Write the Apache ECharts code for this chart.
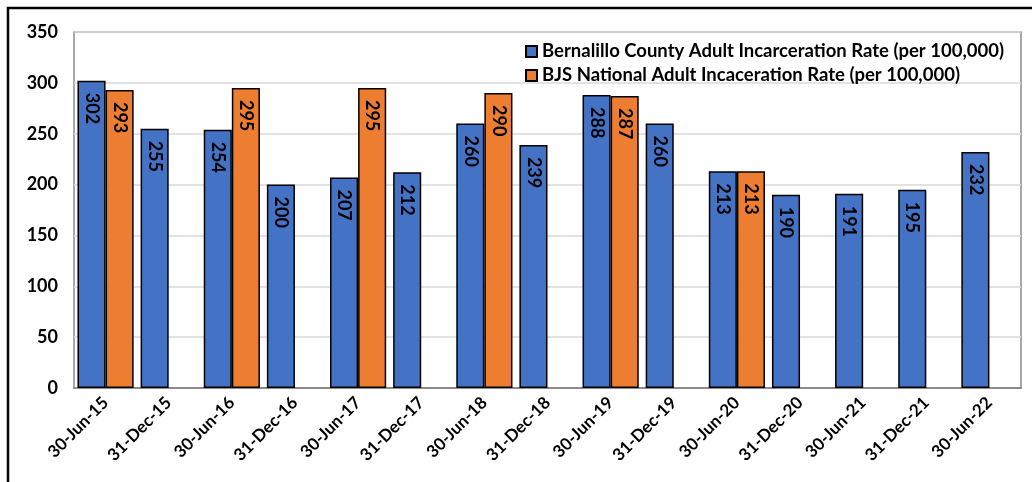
<!DOCTYPE html>
<html>
<head>
<meta charset="utf-8">
<script src="https://cdn.jsdelivr.net/npm/echarts@6/dist/echarts.min.js"></script>
<style>
html,body{margin:0;padding:0;background:#fff;}
#chart{width:1032px;height:482px;}
</style>
</head>
<body>
<div id="chart"></div>
<script>
const categories = ['30-Jun-15','31-Dec-15','30-Jun-16','31-Dec-16','30-Jun-17','31-Dec-17','30-Jun-18','31-Dec-18','30-Jun-19','31-Dec-19','30-Jun-20','31-Dec-20','30-Jun-21','31-Dec-21','30-Jun-22'];
const countyRates = [302,255,254,200,207,212,260,239,288,260,213,190,191,195,232];
const nationalRates = [293,null,295,null,295,null,290,null,287,null,213,null,null,null,null];
const seriesNames = ['Bernalillo County Adult Incarceration Rate (per 100,000)','BJS National Adult Incaceration Rate (per 100,000)'];
const yTicks = {min:0, max:350, interval:50};

const FONT = 'Lato';
const chart = echarts.init(document.getElementById('chart'));
const labelCfg = {
  show: true,
  position: 'insideTop',
  rotate: -90,
  align: 'left',
  verticalAlign: 'middle',
  distance: 12,
  color: '#000',
  fontFamily: FONT,
  fontWeight: 'bold',
  fontSize: 18
};
chart.setOption({
  animation: false,
  graphic: [{
    type: 'rect',
    shape: {x: 8, y: 8, width: 1100, height: 600},
    style: {fill: 'none', stroke: '#000', lineWidth: 2.5},
    z: 100
  }],
  legend: {
    orient: 'vertical',
    left: 520,
    top: 37,
    itemWidth: 11,
    itemHeight: 11,
    itemGap: 5,
    icon: 'rect',
    textStyle: {fontFamily: FONT, fontWeight: 'bold', fontSize: 18.5, color: '#000'},
    data: seriesNames
  },
  grid: {
    left: 74, right: 11, top: 32, bottom: 94,
    show: true, borderColor: '#8c8c8c', borderWidth: 1.5, backgroundColor: 'transparent'
  },
  xAxis: {
    type: 'category',
    data: categories,
    axisLine: {lineStyle: {color: '#8c8c8c', width: 2}},
    axisTick: {show: false},
    axisLabel: {rotate: 45, interval: 0, margin: 12, color: '#000', fontFamily: FONT, fontWeight: 'bold', fontSize: 17}
  },
  yAxis: {
    type: 'value',
    min: yTicks.min, max: yTicks.max, interval: yTicks.interval,
    axisLine: {show: false},
    axisTick: {show: false},
    splitLine: {lineStyle: {color: '#d9d9d9', width: 1.5}},
    axisLabel: {margin: 16, color: '#000', fontFamily: FONT, fontWeight: 'bold', fontSize: 18}
  },
  series: [{
    name: seriesNames[0],
    type: 'bar',
    data: countyRates,
    barGap: '0%',
    barCategoryGap: '11%',
    itemStyle: {color: '#4472C4', borderColor: '#000', borderWidth: 1.5},
    label: labelCfg
  }, {
    name: seriesNames[1],
    type: 'bar',
    data: nationalRates,
    itemStyle: {color: '#ED7D31', borderColor: '#000', borderWidth: 1.5},
    label: labelCfg
  }]
});
</script>
</body>
</html>
